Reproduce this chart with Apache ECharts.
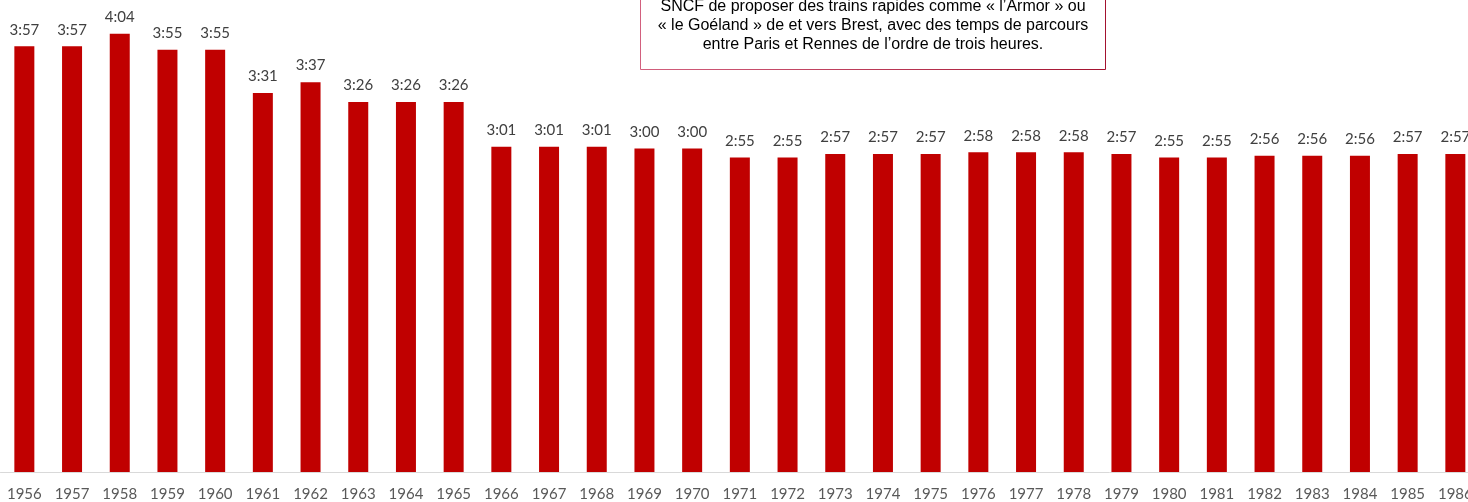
<!DOCTYPE html>
<html>
<head>
<meta charset="utf-8">
<script src="https://cdn.jsdelivr.net/npm/echarts@6/dist/echarts.min.js"></script>
<style>
  html, body { margin: 0; padding: 0; background: #fff; overflow: hidden; }
  /* le graphique déborde un peu à droite, comme l'original */
  #chart { width: 1480px; height: 502px; }
</style>
</head>
<body>
<div id="chart"></div>
<script>
// années et temps de parcours Paris–Rennes (en minutes)
const years = ['1956', '1957', '1958', '1959', '1960', '1961', '1962', '1963', '1964', '1965',
  '1966', '1967', '1968', '1969', '1970', '1971', '1972', '1973', '1974', '1975',
  '1976', '1977', '1978', '1979', '1980', '1981', '1982', '1983', '1984', '1985', '1986'];
const minutes = [237, 237, 244, 235, 235, 211, 217, 206, 206, 206,
  181, 181, 181, 180, 180, 175, 175, 177, 177, 177,
  178, 178, 178, 177, 175, 175, 176, 176, 176, 177, 177];
const noteLines = [
  'SNCF de proposer des trains rapides comme « l’Armor » ou',
  '« le Goéland » de et vers Brest, avec des temps de parcours',
  'entre Paris et Rennes de l’ordre de trois heures.'
];

function hmm(v) {
  const h = Math.floor(v / 60);
  const m = v % 60;
  return h + ':' + (m < 10 ? '0' + m : m);
}

const chart = echarts.init(document.getElementById('chart'));

const option = {
  animation: false,
  grid: { left: 0.5, top: 1.3, width: 1478.7, height: 473.2 },
  xAxis: {
    type: 'category',
    data: years,
    axisLine: { lineStyle: { color: '#d9d9d9', width: 1 } },
    axisTick: { show: false },
    axisLabel: {
      color: '#595959',
      fontFamily: 'Lato, sans-serif',
      fontSize: 15,
      margin: 15,
      interval: 0
    }
  },
  yAxis: {
    type: 'value',
    min: 0,
    max: 262,
    show: false
  },
  series: [{
    type: 'bar',
    data: minutes,
    barWidth: 20,
    itemStyle: { color: '#c00000' },
    label: {
      show: true,
      position: 'top',
      distance: 9,
      color: '#404040',
      fontFamily: 'Lato, sans-serif',
      fontSize: 15,
      formatter: p => hmm(p.value)
    }
  }],
  graphic: [{
    type: 'group',
    left: 640,
    top: -60,
    children: [{
      type: 'rect',
      shape: { x: 0, y: 0, width: 465, height: 129 },
      style: {
        fill: '#fff',
        lineWidth: 1,
        stroke: new echarts.graphic.LinearGradient(0, 0, 1, 0, [
          { offset: 0, color: '#d2607e' },
          { offset: 1, color: '#a3122f' }
        ])
      }
    }, {
      type: 'text',
      x: 232.5,
      y: 57,
      style: {
        text: noteLines.join('\n'),
        align: 'center',
        verticalAlign: 'top',
        fontFamily: '"Liberation Sans", Arial, sans-serif',
        fontSize: 16,
        lineHeight: 19,
        fill: '#000'
      }
    }]
  }]
};

chart.setOption(option);
</script>
</body>
</html>
